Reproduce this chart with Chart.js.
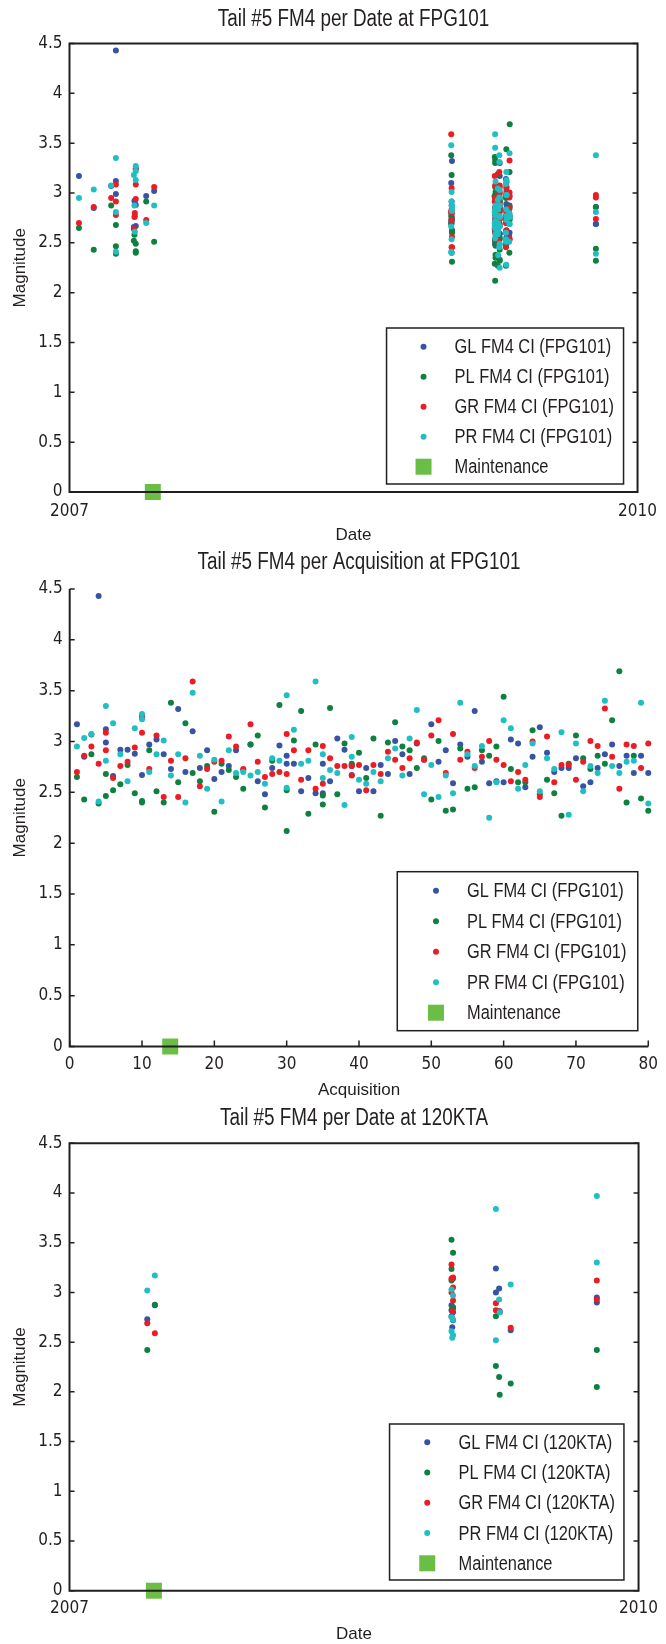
<!DOCTYPE html>
<html>
<head>
<meta charset="utf-8">
<title>Tail #5 FM4</title>
<script src="https://cdn.jsdelivr.net/npm/chart.js@4.4.1/dist/chart.umd.min.js"></script>
<style>
    html, body { margin: 0; padding: 0; background: #fff; }
    body { width: 666px; height: 1644px; position: relative; overflow: hidden; }
    .panel { position: absolute; left: 0; width: 666px; }
    canvas { display: block; }
</style>
</head>
<body>
<div class="panel" style="top:0;height:548px"><canvas id="chart-fecha" width="666" height="548"></canvas></div>
<div class="panel" style="top:548px;height:552px"><canvas id="chart-adquisicion" width="666" height="552"></canvas></div>
<div class="panel" style="top:1100px;height:544px"><canvas id="chart-kta" width="666" height="544"></canvas></div>
<script>
// Configuración global
const config = {
    tinta: '#231f20',
    colores: {
        GL: '#3953a4',
        PL: '#0e8040',
        GR: '#ed1c24',
        PR: '#1fbfc4',
        mantenimiento: '#6abd45'
    },
    fuenteTicks: '"DejaVu Sans Condensed", "Liberation Sans", sans-serif',
    fuenteNormal: '"Liberation Sans", Arial, Helvetica, sans-serif',
    estrechar: 0.82   // Arial comprimido para imitar la letra estrecha
};

const seriesNames = ['GL', 'PL', 'GR', 'PR'];

// FPG101: número de adquisición de cada registro (algunos números se repiten)
const acqNum = [
    1, 2, 3, 4, 5, 5, 6, 7, 8, 9, 10, 10, 11, 12, 13, 14, 15, 16, 17, 18,
    19, 20, 21, 22, 23, 24, 25, 26, 27, 28, 29, 30, 30, 31, 32, 33, 34, 35, 35, 36,
    37, 38, 39, 39, 40, 41, 42, 43, 44, 45, 46, 47, 48, 49, 50, 51, 52, 53, 54, 55,
    56, 57, 58, 59, 60, 61, 62, 63, 64, 65, 66, 67, 68, 69, 70, 71, 72, 73, 74, 75,
    76, 77, 78, 79, 80
];

// Fecha (año decimal) de cada número de adquisición 1..80
const acqDate = [
    2007.05, 2007.128, 2007.22, 2007.245, 2007.245, 2007.34, 2007.343, 2007.345, 2007.35, 2007.35,
    2007.405, 2007.447, 2009.018, 2009.016, 2009.02, 2009.018, 2009.016, 2009.02, 2009.018, 2009.02,
    2009.016, 2009.018, 2009.248, 2009.248, 2009.246, 2009.248, 2009.25, 2009.248, 2009.246, 2009.248,
    2009.25, 2009.248, 2009.246, 2009.248, 2009.25, 2009.248, 2009.262, 2009.264, 2009.262, 2009.264,
    2009.262, 2009.264, 2009.262, 2009.264, 2009.262, 2009.272, 2009.272, 2009.27, 2009.272, 2009.272,
    2009.27, 2009.272, 2009.272, 2009.27, 2009.272, 2009.272, 2009.27, 2009.272, 2009.305, 2009.307,
    2009.308, 2009.305, 2009.307, 2009.308, 2009.305, 2009.307, 2009.308, 2009.305, 2009.307, 2009.308,
    2009.322, 2009.324, 2009.323, 2009.324, 2009.324, 2009.325, 2009.323, 2009.78, 2009.78, 2009.78
];

const fpgGL = [
    3.17, 2.85, 3.07, 4.43, 3.12, 2.99, 2.66, 2.92, 2.92, 2.88, 2.67, 3.24, 2.97, 3.02, 2.875, 2.73, 3.32, 2.70, 3.10, 2.74,
    2.915, 2.63, 2.70, 2.76, 2.915, 2.72, 2.97, 2.61, 2.48, 2.74, 2.96, 2.86, 2.78, 2.78, 2.51, 2.64, 2.49, 2.78, 2.49, 2.61,
    3.03, 2.92, 2.76, 2.67, 2.51, 2.74, 2.51, 2.77, 2.68, 3.005, 2.875, 2.68, 2.98, 2.82, 3.17, 2.80, 2.915, 2.59, 2.97, 2.85,
    3.30, 2.80, 2.59, 2.61, 2.60, 3.02, 2.98, 2.55, 2.85, 3.14, 2.89, 2.70, 2.74, 2.74, 2.835, 2.56, 2.60, 2.74, 2.875, 2.97,
    2.76, 2.86, 2.69, 2.86, 2.69
];
const fpgPL = [
    2.65, 2.43, 2.875, 2.39, 2.68, 2.465, 2.52, 2.58, 2.77, 2.49, 2.415, 2.40, 2.915, 2.51, 2.40, 3.38, 2.60, 3.18, 2.69, 2.61,
    2.76, 2.31, 2.78, 2.72, 2.65, 2.535, 2.97, 3.06, 2.35, 2.81, 3.36, 2.52, 2.12, 3.01, 3.30, 2.29, 2.97, 2.47, 2.38, 3.33,
    2.48, 2.98, 2.78, 2.77, 2.89, 2.64, 3.03, 2.27, 2.99, 3.19, 2.95, 2.915, 2.74, 2.835, 2.43, 3.005, 2.32, 2.33, 2.93, 2.535,
    2.55, 2.915, 2.86, 2.95, 3.44, 2.73, 2.60, 2.60, 3.11, 2.48, 2.625, 2.49, 2.27, 2.78, 3.06, 2.835, 2.73, 2.86, 2.78, 3.21,
    3.69, 2.40, 2.86, 2.44, 2.32
];
const fpgGR = [
    2.70, 2.86, 2.95, 2.78, 3.085, 2.915, 2.64, 2.76, 2.80, 2.94, 3.085, 3.245, 2.73, 3.06, 2.455, 2.81, 2.455, 2.835, 3.59, 2.56,
    2.73, 2.80, 2.81, 3.05, 2.95, 2.73, 3.17, 2.80, 2.65, 2.68, 2.70, 3.075, 2.68, 2.915, 2.625, 2.915, 2.535, 2.955, 2.585, 2.835,
    2.76, 2.76, 2.76, 2.665, 2.77, 2.52, 2.77, 2.68, 2.90, 2.82, 2.74, 2.835, 2.99, 2.82, 3.06, 3.21, 2.69, 3.075, 2.82, 2.90,
    2.74, 2.85, 3.005, 2.82, 2.77, 2.61, 2.70, 2.625, 3.00, 2.455, 3.05, 2.60, 2.77, 2.77, 2.625, 2.80, 3.005, 2.955, 3.325, 2.85,
    2.535, 2.97, 2.955, 2.74, 2.98
];
const fpgPR = [
    2.95, 3.035, 3.075, 2.41, 3.35, 2.81, 3.18, 2.875, 2.61, 3.13, 3.27, 3.22, 2.70, 2.875, 3.01, 2.665, 2.875, 2.40, 3.48, 2.86,
    2.535, 2.82, 2.41, 2.915, 2.69, 2.70, 2.665, 2.70, 2.585, 2.835, 2.81, 3.455, 2.545, 3.115, 2.78, 2.81, 3.59, 2.875, 2.64, 2.72,
    2.69, 2.375, 3.045, 2.85, 2.625, 2.585, 2.70, 2.61, 2.835, 2.93, 2.665, 3.03, 3.31, 2.48, 2.77, 2.455, 2.665, 2.49, 3.38, 2.875,
    2.76, 2.955, 2.25, 2.60, 3.21, 3.13, 2.535, 2.77, 2.98, 2.51, 2.835, 2.73, 3.09, 2.28, 2.98, 2.51, 2.76, 2.69, 3.40, 2.76,
    2.69, 2.80, 2.81, 3.38, 2.39
];

// 120KTA: fecha (año decimal) y valores por registro
const ktaDate = [2007.41, 2007.45, 2009.014, 2009.022, 2009.014, 2009.022, 2009.014, 2009.022, 2009.018,
                 2009.248, 2009.248, 2009.265, 2009.268, 2009.326, 2009.78, 2009.78];
const ktaGL = [2.73, 2.87, 2.87, 2.84, 2.82, 2.80, 2.76, 2.72, 2.65, 3.24, 3.00, 3.04, 2.81, 2.62, 2.95, 2.90];
const ktaPL = [2.42, 2.876, 3.53, 3.40, 3.235, 3.14, 3.12, 2.85, 2.83, 2.26, 2.76, 2.15, 1.97, 2.085, 2.42, 2.05];
const ktaGR = [2.69, 2.59, 3.28, 3.15, 3.14, 3.05, 3.00, 2.92, 2.81, 2.89, 2.82, 2.81, 2.80, 2.645, 3.12, 2.93];
const ktaPR = [3.02, 3.17, 3.03, 2.97, 2.75, 2.725, 2.61, 2.57, 2.545, 3.84, 2.52, 2.93, 2.80, 3.08, 3.97, 3.30];

// Mantenimiento
const maintDate = 2007.44;
const maintAcq = 13.9;
const maintDateKta = 2007.445;

// Ticks
const yTicksStep = 0.5;
const dateTicks = [2007, 2010];
const acqTicksStep = 10;

// Texto estrecho: Arial comprimido en horizontal
function narrowText(ctx, text, x, y, size, align) {
    ctx.save();
    ctx.font = size + 'px ' + config.fuenteNormal;
    ctx.textAlign = align;
    ctx.translate(x, y);
    ctx.scale(config.estrechar, 1);
    ctx.fillText(text, 0, 0);
    ctx.restore();
}

// Plugin: ejes en caja, títulos y leyenda
const decorPlugin = {
    id: 'decor',
    afterDatasetsDraw(chart, args, opts) {
        const ctx = chart.ctx;
        const a = chart.chartArea;
        const xs = chart.scales.x;
        const ys = chart.scales.y;
        ctx.save();

        // Ejes
        ctx.strokeStyle = config.tinta;
        ctx.lineWidth = 2;
        ctx.beginPath();
        if (opts.caja) {
            ctx.rect(a.left, a.top, a.right - a.left, a.bottom - a.top);
        } else {
            ctx.moveTo(a.left, a.top);
            ctx.lineTo(a.left, a.bottom);
            ctx.lineTo(a.right, a.bottom);
        }
        ctx.stroke();

        // Marcas hacia dentro
        ctx.lineWidth = 1.5;
        ctx.beginPath();
        ys.ticks.forEach(t => {
            const py = ys.getPixelForValue(t.value);
            ctx.moveTo(a.left, py);
            ctx.lineTo(a.left + 5, py);
            if (opts.caja) {
                ctx.moveTo(a.right, py);
                ctx.lineTo(a.right - 5, py);
            }
        });
        if (!opts.caja) {
            xs.ticks.forEach(t => {
                const px = xs.getPixelForValue(t.value);
                ctx.moveTo(px, a.bottom);
                ctx.lineTo(px, a.bottom - 6);
            });
        }
        ctx.stroke();

        // Título y etiquetas de ejes
        ctx.fillStyle = config.tinta;
        ctx.textBaseline = 'alphabetic';
        narrowText(ctx, opts.titulo, (a.left + a.right) / 2, a.top - opts.tituloGap, 23, 'center');
        ctx.textAlign = 'center';
        ctx.font = '17px ' + config.fuenteNormal;
        ctx.fillText(opts.etiquetaX, (a.left + a.right) / 2, a.bottom + 48);
        ctx.save();
        ctx.translate(25, (a.top + a.bottom) / 2);
        ctx.rotate(-Math.PI / 2);
        ctx.fillText(opts.etiquetaY, 0, 0);
        ctx.restore();

        // Leyenda
        const lg = opts.leyenda;
        const left = a.right - lg.derecha - lg.ancho;
        const top = a.bottom - lg.abajo - lg.alto;
        ctx.fillStyle = '#ffffff';
        ctx.fillRect(left, top, lg.ancho, lg.alto);
        ctx.strokeStyle = config.tinta;
        ctx.lineWidth = 1.5;
        ctx.strokeRect(left, top, lg.ancho, lg.alto);
        ctx.textBaseline = 'middle';
        chart.data.datasets.forEach((ds, i) => {
            const cy = top + lg.primera + i * lg.paso;
            const cx = left + lg.marcaX;
            ctx.fillStyle = ds.backgroundColor;
            if (ds.pointStyle === 'rect') {
                ctx.fillRect(cx - 8, cy - 8, 16, 16);
            } else {
                ctx.beginPath();
                ctx.arc(cx, cy, 3, 0, Math.PI * 2);
                ctx.fill();
            }
            ctx.fillStyle = config.tinta;
            narrowText(ctx, ds.label, left + lg.textoX, cy + 1, 20, 'left');
        });

        ctx.restore();
    }
};

// Inicialización
document.addEventListener('DOMContentLoaded', function() {
    const fechasFpg = acqNum.map(n => acqDate[n - 1]);
    const seriesFpg = [fpgGL, fpgPL, fpgGR, fpgPR];
    const seriesKta = [ktaGL, ktaPL, ktaGR, ktaPR];

    createChart('chart-fecha', buildDatasets('FPG101', fechasFpg, seriesFpg, maintDate), {
        xMin: 2007, xMax: 2010, xStep: dateTicks[1] - dateTicks[0],
        top: 43.5, right: 21, left: 69.5, xAlto: 56, xPad: 9,
        caja: true, tituloGap: 18,
        titulo: 'Tail #5 FM4 per Date at FPG101', etiquetaX: 'Date',
        leyenda: { derecha: 14, abajo: 8, ancho: 237, alto: 156, primera: 18.7, paso: 30, marcaX: 37, textoX: 68 }
    });

    createChart('chart-adquisicion', buildDatasets('FPG101', acqNum, seriesFpg, maintAcq), {
        xMin: 0, xMax: 80, xStep: acqTicksStep,
        top: 41, right: 14, left: 69.7, xAlto: 53.5, xPad: 8,
        caja: false, tituloGap: 19.7,
        titulo: 'Tail #5 FM4 per Acquisition at FPG101', etiquetaX: 'Acquisition',
        leyenda: { derecha: 10.5, abajo: 15.8, ancho: 240.5, alto: 159, primera: 19, paso: 30.5, marcaX: 38.7, textoX: 69.7 }
    });

    createChart('chart-kta', buildDatasets('120KTA', ktaDate, seriesKta, maintDateKta), {
        xMin: 2007, xMax: 2010, xStep: dateTicks[1] - dateTicks[0],
        top: 43.3, right: 21, left: 69.5, xAlto: 53.3, xPad: 8,
        caja: true, tituloGap: 18.3,
        titulo: 'Tail #5 FM4 per Date at 120KTA', etiquetaX: 'Date',
        leyenda: { derecha: 14.6, abajo: 10.7, ancho: 234.4, alto: 156, primera: 18.3, paso: 30.25, marcaX: 37.7, textoX: 69 }
    });
});

function buildDatasets(sitio, xs, series, maintX) {
    const datasets = seriesNames.map((name, k) => ({
        label: `${name} FM4 CI (${sitio})`,
        data: xs.map((x, i) => ({ x: x, y: series[k][i] })),
        backgroundColor: config.colores[name],
        borderColor: config.colores[name],
        pointRadius: 3,
        pointHoverRadius: 3,
        pointBorderWidth: 0,
        order: 5 - k,
        clip: false
    }));
    datasets.push({
        label: 'Maintenance',
        data: [{ x: maintX, y: 0 }],
        backgroundColor: config.colores.mantenimiento,
        borderColor: config.colores.mantenimiento,
        pointStyle: 'rect',
        pointRadius: 11.3,
        pointHoverRadius: 11.3,
        pointBorderWidth: 0,
        order: 0,
        clip: false
    });
    return datasets;
}

function createChart(id, datasets, c) {
    const ctx = document.getElementById(id).getContext('2d');
    const tickFont = { family: config.fuenteTicks, size: 17 };
    return new Chart(ctx, {
        type: 'scatter',
        data: { datasets: datasets },
        plugins: [decorPlugin],
        options: {
            responsive: false,
            animation: false,
            devicePixelRatio: 1,
            events: [],
            layout: { padding: { top: c.top, right: c.right, left: 0, bottom: 0 } },
            plugins: {
                legend: { display: false },
                tooltip: { enabled: false },
                decor: {
                    caja: c.caja,
                    titulo: c.titulo,
                    tituloGap: c.tituloGap,
                    etiquetaX: c.etiquetaX,
                    etiquetaY: 'Magnitude',
                    leyenda: c.leyenda
                }
            },
            scales: {
                x: {
                    type: 'linear',
                    min: c.xMin,
                    max: c.xMax,
                    grid: { display: false, drawTicks: false },
                    border: { display: false },
                    ticks: {
                        stepSize: c.xStep,
                        padding: c.xPad,
                        autoSkip: false,
                        maxRotation: 0,
                        color: config.tinta,
                        font: tickFont,
                        callback: v => String(v)
                    },
                    afterFit: s => { s.height = c.xAlto; }
                },
                y: {
                    type: 'linear',
                    min: 0,
                    max: 4.5,
                    grid: { display: false, drawTicks: false },
                    border: { display: false },
                    ticks: {
                        stepSize: yTicksStep,
                        padding: 7,
                        color: config.tinta,
                        font: tickFont,
                        callback: v => String(v)
                    },
                    afterFit: s => { s.width = c.left; }
                }
            }
        }
    });
}
</script>
</body>
</html>
